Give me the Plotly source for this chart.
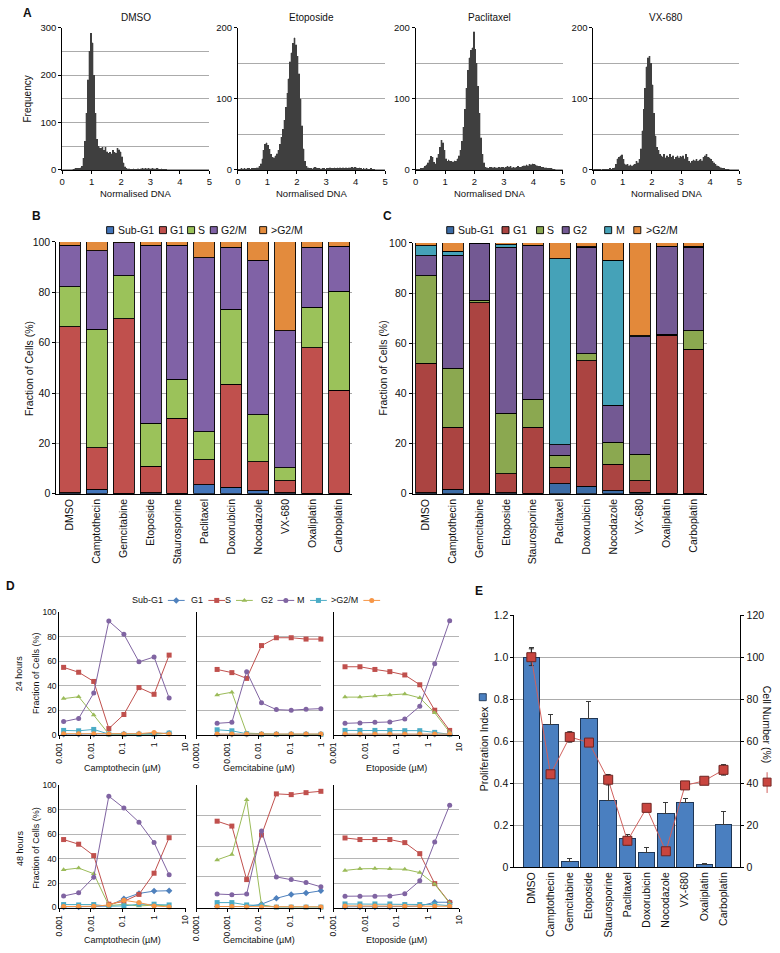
import plotly.graph_objects as go

W, H = 780, 953
FONT = "Liberation Sans, Arial, Helvetica, sans-serif"

# ---------------- Panel A : DNA content histograms ----------------
A_titles = ["DMSO", "Etoposide", "Paclitaxel", "VX-680"]
A_bin_width = 0.05
A_bin_centers = [round(0.025 + 0.05 * i, 3) for i in range(100)]
A_dmso = [0, 0, 0, 0, 0, 0, 0, 1, 2, 3,
          3, 4, 5, 8, 25, 60, 120, 190, 250, 288,
          268, 200, 120, 65, 50, 47, 46, 48, 41, 48,
          38, 35, 37, 34, 41, 37, 35, 46, 43, 38,
          28, 15, 7, 4, 2, 2, 1, 1, 2, 1,
          1, 2, 1, 2, 3, 2, 3, 2, 3, 2,
          2, 3, 2, 2, 3, 2, 1, 2, 1, 1,
          1, 0, 0, 0, 0, 0, 0, 0, 0, 0,
          0, 0, 0, 0, 0, 0, 0, 0, 0, 0,
          0, 0, 0, 0, 0, 0, 0, 0, 0, 0]
A_etoposide = [1, 1, 2, 1, 2, 1, 2, 2, 1, 2,
               2, 2, 3, 3, 5, 9, 16, 28, 36, 38,
               35, 29, 22, 18, 17, 20, 23, 28, 36, 46,
               57, 70, 88, 108, 128, 152, 165, 178, 186, 176,
               160, 135, 100, 62, 30, 12, 5, 3, 2, 2,
               1, 3, 4, 3, 2, 2, 1, 2, 2, 1,
               2, 2, 3, 2, 2, 3, 2, 3, 2, 3,
               2, 3, 2, 3, 2, 3, 3, 4, 3, 4,
               3, 2, 3, 2, 1, 2, 1, 2, 1, 1,
               2, 1, 1, 0, 0, 0, 0, 0, 0, 0]
A_paclitaxel = [1, 1, 1, 2, 2, 3, 5, 7, 10, 14,
                19, 18, 11, 9, 17, 22, 32, 42, 38, 28,
                16, 12, 14, 12, 12, 11, 13, 12, 16, 20,
                28, 40, 60, 85, 115, 140, 158, 168, 172, 194,
                170, 150, 118, 80, 45, 22, 10, 4, 3, 2,
                4, 4, 3, 4, 3, 3, 4, 3, 4, 4,
                3, 4, 5, 4, 5, 3, 4, 3, 4, 5,
                4, 4, 5, 6, 5, 7, 6, 8, 7, 9,
                8, 7, 6, 5, 5, 4, 4, 3, 3, 2,
                2, 2, 2, 1, 1, 0, 0, 0, 0, 0]
A_vx680 = [1, 1, 1, 1, 1, 0, 1, 1, 1, 1,
           1, 2, 1, 2, 3, 8, 16, 18, 20, 21,
           15, 9, 7, 8, 6, 7, 5, 7, 8, 12,
           10, 15, 30, 55, 85, 115, 145, 158, 160, 150,
           120, 80, 48, 32, 28, 22, 20, 18, 22, 17,
           20, 18, 22, 18, 20, 15, 18, 20, 17, 19,
           18, 20, 16, 22, 18, 12, 10, 12, 14, 13,
           15, 12, 14, 15, 13, 18, 20, 22, 18, 17,
           15, 12, 10, 8, 6, 5, 4, 3, 2, 2,
           1, 1, 1, 0, 0, 0, 0, 0, 0, 0]
A_ymax = [300, 200, 200, 200]
A_xticks = [0, 1, 2, 3, 4, 5]

# ---------------- Panels B / C / E categories ----------------
drugs = ["DMSO", "Camptothecin", "Gemcitabine", "Etoposide", "Staurosporine",
         "Paclitaxel", "Doxorubicin", "Nocodazole", "VX-680", "Oxaliplatin", "Carboplatin"]

# Panel B (%)
B_subg1 = [0.5, 1.8, 0.3, 0.5, 0.3, 3.5, 2.6, 1.2, 0.5, 0.3, 0.3]
B_g1 = [65.9, 16.4, 69.2, 10.5, 29.7, 10.1, 40.9, 11.5, 4.6, 57.6, 40.9]
B_s = [15.9, 47.1, 17.1, 17.1, 15.4, 11.1, 29.7, 18.6, 5.2, 16.1, 39.2]
B_g2m = [16.4, 31.2, 13.1, 70.7, 53.3, 69.0, 24.8, 61.5, 54.5, 24.0, 18.0]
B_gtg2m = [1.3, 3.5, 0.3, 1.2, 1.3, 6.3, 2.0, 7.2, 35.2, 2.0, 1.6]

# Panel C (%)
C_subg1 = [0.5, 1.8, 0.3, 0.5, 0.3, 3.9, 3.1, 1.2, 0.7, 0.3, 0.3]
C_g1 = [51.6, 24.7, 75.8, 7.4, 26.2, 6.6, 49.9, 10.6, 4.5, 63.0, 57.4]
C_s = [34.8, 23.6, 1.1, 24.3, 11.2, 4.9, 2.8, 8.8, 10.5, 0.3, 7.3]
C_g2 = [8.1, 45.0, 22.5, 66.1, 61.2, 4.2, 42.5, 14.7, 46.9, 34.8, 33.3]
C_m = [3.9, 1.6, 0.2, 0.9, 0.1, 74.2, 0.2, 57.9, 0.4, 0.2, 0.4]
C_gtg2m = [1.1, 3.3, 0.1, 0.8, 1.0, 6.2, 1.5, 6.8, 37.0, 1.4, 1.3]

# ---------------- Panel D : dose responses ----------------
D_phases = ["Sub-G1", "G1", "S", "G2", "M", ">G2/M"]
D_campto_conc = [0.00137, 0.0041, 0.0123, 0.037, 0.111, 0.333, 1, 3]
D_gem_conc = [0.00046, 0.00137, 0.0041, 0.0123, 0.037, 0.111, 0.333, 1]
D_etop_conc = [0.00229, 0.00686, 0.0206, 0.0617, 0.185, 0.556, 1.667, 5]

D_campto_24 = {
    "Sub-G1": [0.3, 0.3, 0.3, 0.5, 0.5, 0.8, 1.0, 1.2],
    "G1": [55, 51, 43.5, 5, 16.5, 38.5, 33, 65],
    "S": [29.5, 31, 16, 0.5, 0.3, 0.3, 0.3, 1.3],
    "G2": [10.7, 13.3, 34, 92.8, 82, 59.5, 63.5, 30],
    "M": [3.5, 3.2, 4.3, 0.5, 0.3, 0.3, 0.5, 1.3],
    ">G2/M": [0.8, 0.8, 0.8, 0.6, 0.6, 0.8, 1.9, 0.5],
}
D_gem_24 = {
    "Sub-G1": [0.3, 0.3, 0.3, 0.3, 0.3, 0.3, 0.3, 0.3],
    "G1": [53.3, 50.7, 46, 72.8, 79.2, 79.2, 78.1, 78.1],
    "S": [32.5, 34.7, 1.3, 0.5, 0.3, 0.3, 0.3, 0.3],
    "G2": [9.3, 10.1, 51.5, 26, 20.5, 20, 20.8, 21.3],
    "M": [4, 3.2, 0.8, 0.3, 0.3, 0.3, 0.3, 0.3],
    ">G2/M": [0.5, 0.5, 0.5, 0.5, 0.5, 0.5, 0.5, 0.5],
}
D_etop_24 = {
    "Sub-G1": [0.3, 0.3, 0.3, 0.3, 0.3, 0.3, 0.3, 0.3],
    "G1": [55.5, 55.5, 53.3, 51.5, 48.8, 40.8, 20, 3.5],
    "S": [30.7, 30.7, 31.7, 32.5, 33.3, 30.1, 17.9, 1.9],
    "G2": [9.3, 9.6, 10.1, 10.4, 12.8, 23.2, 58, 93],
    "M": [3.5, 3.5, 3.5, 3.5, 3.3, 3.3, 1.9, 0.3],
    ">G2/M": [0.5, 0.5, 0.5, 0.5, 0.5, 0.5, 0.5, 0.5],
}
D_campto_48 = {
    "Sub-G1": [0.5, 0.5, 0.8, 1.3, 7.2, 11.5, 13.4, 13.7],
    "G1": [55.5, 51.7, 42.4, 2.7, 5, 10.7, 28, 57],
    "S": [30.8, 32.2, 27.6, 1.6, 2.5, 1.3, 1.9, 1.3],
    "G2": [9.4, 12, 24.7, 90.9, 81.2, 69.7, 53, 26.8],
    "M": [2.4, 2.1, 2.4, 1.0, 1.3, 2.7, 2.7, 2.1],
    ">G2/M": [0.8, 0.8, 1.0, 2.1, 5.9, 4.0, 1.3, 0.5],
}
D_gem_48 = {
    "Sub-G1": [0.8, 0.8, 0.8, 2.7, 7.5, 10.7, 11.8, 13.7],
    "G1": [70.5, 66.5, 22.8, 59.2, 92.8, 92.2, 93.8, 94.9],
    "S": [38.9, 43.2, 88, 2.1, 0.3, 0.3, 0.3, 0.3],
    "G2": [11, 10.5, 11, 62.5, 25, 22.8, 20.4, 16.9],
    "M": [4, 4, 2.1, 1.6, 0.3, 0.3, 0.3, 0.3],
    ">G2/M": [0.8, 0.8, 0.5, 0.5, 0.5, 0.5, 0.5, 0.5],
}
D_etop_48 = {
    "Sub-G1": [0.5, 0.5, 0.5, 0.5, 0.8, 1.2, 4.3, 4.3],
    "G1": [56.8, 55.5, 55.5, 55.5, 53, 44, 19.5, 4],
    "S": [30.3, 31.6, 31.8, 31.6, 31.2, 28.5, 19, 3.5],
    "G2": [9.2, 9.2, 9.2, 9.5, 11.3, 21.8, 53.5, 83.6],
    "M": [2.9, 2.9, 2.9, 2.9, 2.4, 2.4, 2.4, 1.5],
    ">G2/M": [1.3, 1.3, 1.3, 1.3, 1.0, 1.0, 1.0, 1.0],
}
D_xtitles = ["Camptothecin (µM)", "Gemcitabine (µM)", "Etoposide (µM)"]
D_xt_campto = [0.001, 0.01, 0.1, 1, 10]
D_xl_campto = ["0.001", "0.01", "0.1", "1", "10"]
D_xt_gem = [0.0001, 0.001, 0.01, 0.1, 1]
D_xl_gem = ["0.0001", "0.001", "0.01", "0.1", "1"]

# ---------------- Panel E ----------------
E_prolif = [1.0, 0.679, 0.027, 0.706, 0.318, 0.136, 0.069, 0.256, 0.309, 0.014, 0.205]
E_prolif_err = [0.045, 0.048, 0.012, 0.081, 0.08, 0.021, 0.025, 0.053, 0.017, 0.005, 0.062]
E_cellnum = [100, 44.2, 62, 59.3, 41.6, 12.5, 28.2, 7.5, 38.9, 41.1, 46.3]
E_cellnum_err = [4, 0, 2.5, 0, 2.5, 2, 0, 0, 1.5, 1, 2.5]
E_lticks = [0, 0.2, 0.4, 0.6, 0.8, 1.0, 1.2]
E_lticktext = ["0", "0.2", "0.4", "0.6", "0.8", "1.0", "1.2"]
E_rticks = [0, 20, 40, 60, 80, 100, 120]

# ---------------- helpers ----------------
def xdom(a, b):
    return [a / W, b / W]

def ydom(top, bot):
    return [1 - bot / H, 1 - top / H]

def xr(i):
    return "x" if i == 1 else f"x{i}"

def yr(i):
    return "y" if i == 1 else f"y{i}"

def xa(i):
    return "xaxis" if i == 1 else f"xaxis{i}"

def ya(i):
    return "yaxis" if i == 1 else f"yaxis{i}"

anns = []

def ann(text, x, y, size=10, angle=0, xanchor="center", bold=False):
    anns.append(dict(text=f"<b>{text}</b>" if bold else text, x=x / W, y=1 - y / H,
                     xref="paper", yref="paper", showarrow=False, textangle=angle,
                     xanchor=xanchor, yanchor="middle", font=dict(size=size, color="#111")))

traces = []
layout = dict(width=W, height=H, margin=dict(l=0, r=0, t=0, b=0),
              paper_bgcolor="white", plot_bgcolor="rgba(0,0,0,0)",
              font=dict(family=FONT, size=10, color="#111"),
              barmode="stack", showlegend=False, hovermode=False)

GRID = "#ababab"

# ---------------- Panel A ----------------
A_x = [(58, 207), (236, 385), (416, 565), (596, 744)]
A_counts = [A_dmso, A_etoposide, A_paclitaxel, A_vx680]
A_major = {300: [0, 100, 200, 300], 200: [0, 100, 200]}
A_minor = {300: [50, 150, 250], 200: [50, 150]}
for k in range(4):
    i = k + 1
    traces.append(go.Bar(x=A_bin_centers, y=A_counts[k], width=A_bin_width,
                         marker=dict(color="#3f3f3f", line=dict(color="#3f3f3f", width=0.3)),
                         xaxis=xr(i), yaxis=yr(i)))
    layout[xa(i)] = dict(domain=xdom(*A_x[k]), anchor=yr(i), range=[0, 5], tickvals=A_xticks,
                         ticks="outside", ticklen=3, tickcolor="black", showline=True,
                         linecolor="black", linewidth=1, showgrid=False, zeroline=False,
                         tickfont=dict(size=9.5))
    ym = A_ymax[k]
    layout[ya(i)] = dict(domain=ydom(22, 166), anchor=xr(i), range=[0, ym], tickvals=A_major[ym],
                         showgrid=True, gridcolor=GRID, gridwidth=1,
                         minor=dict(tickvals=A_minor[ym], showgrid=True, gridcolor=GRID, ticks=""),
                         showline=True, linecolor="black", linewidth=1, ticks="outside", ticklen=3,
                         tickcolor="black", zeroline=False, tickfont=dict(size=9.5))
    cx = (A_x[k][0] + A_x[k][1]) / 2
    ann(A_titles[k], cx, 12, size=10)
    ann("Normalised DNA", cx, 190, size=9.5)
ann("Frequency", 23, 94, size=10, angle=-90)
ann("A", 23, 7, size=12, bold=True)

# ---------------- Panel B ----------------
B_series = [("Sub-G1", B_subg1, "#4375ba"), ("G1", B_g1, "#c0504d"), ("S", B_s, "#9bc25a"),
            ("G2/M", B_g2m, "#8062a6"), (">G2/M", B_gtg2m, "#e38b3d")]
for name, vals, col in B_series:
    traces.append(go.Bar(x=drugs, y=vals, name=name, width=0.78,
                         marker=dict(color=col, line=dict(color="black", width=0.9)),
                         xaxis="x5", yaxis="y5"))
layout["xaxis5"] = dict(domain=xdom(52, 352), anchor="y5", type="category", tickangle=-90,
                        showline=True, linecolor="black", linewidth=1, ticks="",
                        tickfont=dict(size=10.5))
layout["yaxis5"] = dict(domain=ydom(239, 494), anchor="x5", range=[0, 100],
                        tickvals=[0, 20, 40, 60, 80, 100], showgrid=True, gridcolor=GRID,
                        showline=True, linecolor="black", ticks="outside", ticklen=3,
                        tickcolor="black", zeroline=False, tickfont=dict(size=10.5))
ann("B", 32, 213, size=12, bold=True)
ann("Fraction of Cells (%)", 25, 367, size=10.5, angle=-90)

# ---------------- Panel C ----------------
C_series = [("Sub-G1", C_subg1, "#3c6ca6"), ("G1", C_g1, "#ab4441"), ("S", C_s, "#8ba850"),
            ("G2", C_g2, "#735993"), ("M", C_m, "#45a2b8"), (">G2/M", C_gtg2m, "#e3893a")]
for name, vals, col in C_series:
    traces.append(go.Bar(x=drugs, y=vals, name=name, width=0.78,
                         marker=dict(color=col, line=dict(color="black", width=0.9)),
                         xaxis="x6", yaxis="y6"))
layout["xaxis6"] = dict(domain=xdom(413, 711), anchor="y6", type="category", tickangle=-90,
                        showline=True, linecolor="black", linewidth=1, ticks="",
                        tickfont=dict(size=10.5))
layout["yaxis6"] = dict(domain=ydom(240, 494), anchor="x6", range=[0, 100],
                        tickvals=[0, 20, 40, 60, 80, 100], showgrid=True, gridcolor=GRID,
                        showline=True, linecolor="black", ticks="outside", ticklen=3,
                        tickcolor="black", zeroline=False, tickfont=dict(size=10.5))
ann("C", 387, 213, size=12, bold=True)
ann("Fraction of Cells (%)", 383, 367, size=10.5, angle=-90)

# ---------------- Panel D ----------------
D_style = {"Sub-G1": ("#4f81bd", "diamond"), "G1": ("#c0504d", "square"),
           "S": ("#9bbb59", "triangle-up"), "G2": ("#8064a2", "circle"),
           "M": ("#4bacc6", "square"), ">G2/M": ("#f79646", "circle")}
D_cols = [(55, 183), (194, 320), (333, 460)]
D_rows = [(614, 738), (789, 913)]
D_data = [[(D_campto_conc, D_campto_24), (D_gem_conc, D_gem_24), (D_etop_conc, D_etop_24)],
          [(D_campto_conc, D_campto_48), (D_gem_conc, D_gem_48), (D_etop_conc, D_etop_48)]]
for r in range(2):
    for c in range(3):
        i = 7 + r * 3 + c
        conc, dd = D_data[r][c]
        for ph in D_phases:
            col, sym = D_style[ph]
            traces.append(go.Scatter(x=conc, y=dd[ph], mode="lines+markers",
                                     line=dict(color=col, width=1),
                                     marker=dict(symbol=sym, size=5, color=col, line=dict(width=0)),
                                     xaxis=xr(i), yaxis=yr(i), cliponaxis=False))
        if c == 1:
            tv, tl, rng = D_xt_gem, D_xl_gem, [-4, 0]
        else:
            tv, tl, rng = D_xt_campto, D_xl_campto, [-3, 1]
        layout[xa(i)] = dict(domain=xdom(*D_cols[c]), anchor=yr(i), type="log", range=rng,
                             tickvals=tv, ticktext=tl, tickangle=-90, ticks="outside", ticklen=3,
                             tickcolor="black", showline=True, linecolor="black", linewidth=1.3,
                             showgrid=False, zeroline=False, tickfont=dict(size=8.5))
        yt = [0, 25, 50, 75, 100] if (r == 1 and c == 1) else [0, 20, 40, 60, 80, 100]
        layout[ya(i)] = dict(domain=ydom(*D_rows[r]), anchor=xr(i), range=[0, 100], tickvals=yt,
                             showticklabels=(c == 0), showgrid=True, gridcolor="#b5b5b5",
                             showline=True, linecolor="black", linewidth=1, ticks="",
                             zeroline=False, tickfont=dict(size=8.5))
        cx = (D_cols[c][0] + D_cols[c][1]) / 2
        ann(D_xtitles[c], cx, 772 if r == 0 else 946, size=9)
ann("D", 6, 587, size=12, bold=True)
ann("24 hours", 15, 676, size=9, angle=-90)
ann("Fraction of Cells (%)", 32, 676, size=9, angle=-90)
ann("48 hours", 15, 853, size=9, angle=-90)
ann("Fraction of Cells (%)", 32, 853, size=9, angle=-90)

# ---------------- Panel E ----------------
traces.append(go.Bar(x=drugs, y=E_prolif, width=0.86,
                     marker=dict(color="#4a7fc0", line=dict(color="#1e3656", width=1)),
                     error_y=dict(type="data", array=E_prolif_err,
                                  arrayminus=[0] * len(E_prolif_err), symmetric=False,
                                  color="#3a3a3a", thickness=1, width=2.5),
                     xaxis="x13", yaxis="y13"))
traces.append(go.Scatter(x=drugs, y=E_cellnum, mode="lines+markers",
                         line=dict(color="#d0605d", width=1),
                         marker=dict(symbol="square", size=9, color="#c9453f",
                                     line=dict(color="#6e2522", width=1)),
                         error_y=dict(type="data", array=E_cellnum_err, color="#2a2a2a",
                                      thickness=1, width=2.5),
                         xaxis="x13", yaxis="y14", cliponaxis=False))
layout["xaxis13"] = dict(domain=xdom(516, 745), anchor="y13", type="category", tickangle=-90,
                         showline=True, linecolor="black", linewidth=1, ticks="",
                         tickfont=dict(size=10.5))
layout["yaxis13"] = dict(domain=ydom(617, 872), anchor="x13", range=[0, 1.2], tickvals=E_lticks,
                         ticktext=E_lticktext, showgrid=True, gridcolor=GRID, showline=True,
                         linecolor="black", ticks="outside", ticklen=3, tickcolor="black",
                         zeroline=False, tickfont=dict(size=10.5))
layout["yaxis14"] = dict(overlaying="y13", side="right", anchor="x13", range=[0, 120],
                         tickvals=E_rticks, showgrid=False, showline=True, linecolor="black",
                         ticks="outside", ticklen=3, tickcolor="black", zeroline=False,
                         tickfont=dict(size=10.5))
ann("E", 480, 592, size=12, bold=True)
ann("Proliferation Index", 485, 752, size=10.5, angle=-90)
ann("Cell Number (%)", 772, 728, size=10.5, angle=90)

# ---------------- legend keys (pixel-space helper axes) ----------------
layout["xaxis15"] = dict(domain=[0, 1], range=[0, W], visible=False, anchor="y15", fixedrange=True)
layout["yaxis15"] = dict(domain=[0, 1], range=[H, 0], visible=False, anchor="x15", fixedrange=True)

def key_square(x, y, color, size=7, lc="black"):
    traces.append(go.Scatter(x=[x], y=[y], mode="markers", xaxis="x15", yaxis="y15",
                             marker=dict(symbol="square", size=size, color=color,
                                         line=dict(color=lc, width=0.9)), cliponaxis=False))

# B legend
B_leg = [(106.5, 112), (160, 165), (188.5, 193), (211.5, 217), (261.5, 267)]
for (sx, tx), (name, _, col) in zip(B_leg, B_series):
    key_square(sx, 227, col)
    ann(name.replace(">", "&gt;"), tx, 227, size=10.5, xanchor="left")
# C legend
C_leg = [(451, 457), (507, 513), (542, 547), (568, 573), (611, 617), (640.5, 647)]
for (sx, tx), (name, _, col) in zip(C_leg, C_series):
    key_square(sx, 227, col)
    ann(name.replace(">", "&gt;"), tx, 227, size=10.5, xanchor="left")
# D legend (text then line-marker key)
D_leg = [(165, 182), (206, 223), (234, 251), (276, 293), (309, 326), (363, 380)]
for (x0, x1), ph in zip(D_leg, D_phases):
    col, sym = D_style[ph]
    traces.append(go.Scatter(x=[x0, x1], y=[602, 602], mode="lines", xaxis="x15", yaxis="y15",
                             line=dict(color=col, width=1)))
    traces.append(go.Scatter(x=[(x0 + x1) / 2], y=[602], mode="markers", xaxis="x15", yaxis="y15",
                             marker=dict(symbol=sym, size=5, color=col)))
    ann(ph.replace(">", "&gt;"), x0 - 3, 602, size=9, xanchor="right")
# E axis-title keys
key_square(484, 700, "#4a7fc0", size=7, lc="#1e3656")
traces.append(go.Scatter(x=[772, 772], y=[776, 797], mode="lines", xaxis="x15", yaxis="y15",
                         line=dict(color="#d0605d", width=1)))
key_square(772, 786, "#c9453f", size=8, lc="#6e2522")

layout["annotations"] = anns
fig = go.Figure(data=traces, layout=layout)
fig.write_html("out.html",
               config={"displayModeBar": False, "staticPlot": True},
               post_script="document.body.style.margin='0';document.body.style.padding='0';"
                           "document.documentElement.style.overflow='hidden';"
                           "document.body.style.overflow='hidden';")
